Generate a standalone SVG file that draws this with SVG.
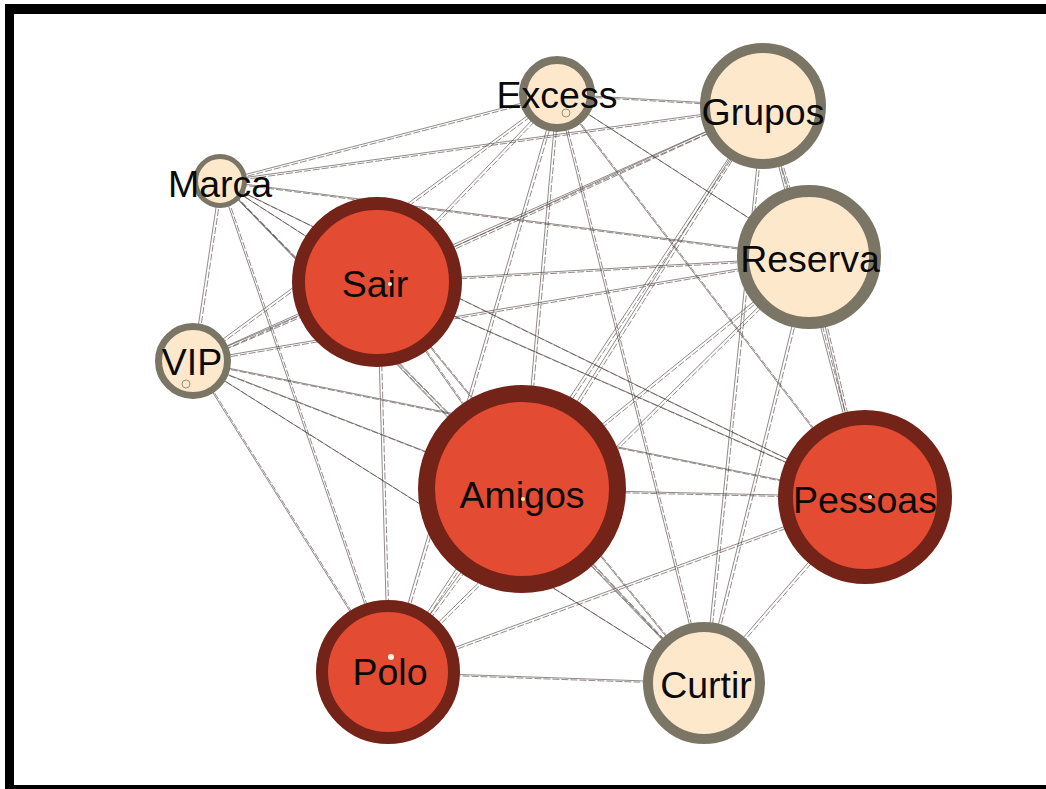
<svg xmlns="http://www.w3.org/2000/svg" xmlns:xlink="http://www.w3.org/1999/xlink" width="1046" height="789" viewBox="0 0 1046 789">
<style>
.edge{fill:none;stroke:#4a3b3a;stroke-width:0.8;stroke-opacity:0.75}
.dash{stroke-dasharray:7 2}
.hot{fill:#E34B32;stroke:#732318}
.cold{fill:#FEE8CB;stroke:#7B7565}
.lbl{font-family:"Liberation Sans",Arial,sans-serif;font-size:37.5px;fill:#0a0a0a;text-anchor:middle}
.dot{fill:#fff4e0}
.ring{fill:none;stroke:#9a8f80;stroke-width:1}
</style>
<defs>
<path id="E" class="edge" d="M557,94L763,106 M557,94L220,181 M557,94L377,282 M557,94L193,361 M557,94L522,489 M557,94L388,672 M557,94L704,683 M557,94L809,257 M557,94L865,497 M763,106L220,181 M763,106L377,282 M763,106L193,361 M763,106L522,489 M763,106L388,672 M763,106L704,683 M763,106L809,257 M763,106L865,497 M220,181L377,282 M220,181L193,361 M220,181L522,489 M220,181L388,672 M220,181L704,683 M220,181L809,257 M220,181L865,497 M377,282L193,361 M377,282L522,489 M377,282L388,672 M377,282L704,683 M377,282L809,257 M377,282L865,497 M193,361L522,489 M193,361L388,672 M193,361L704,683 M193,361L809,257 M193,361L865,497 M522,489L388,672 M522,489L704,683 M522,489L809,257 M522,489L865,497 M388,672L704,683 M388,672L809,257 M388,672L865,497 M704,683L809,257 M704,683L865,497 M809,257L865,497"/>
</defs>
<rect x="0" y="0" width="1046" height="789" fill="#ffffff"/>
<g id="frame" fill="#000">
<rect x="5" y="4" width="1041" height="10"/>
<rect x="5" y="4" width="9" height="785"/>
<rect x="5" y="785" width="1041" height="4"/>
</g>
<g id="connectors">
<use xlink:href="#E"/>
<use xlink:href="#E" class="dash" transform="translate(2.5,1.5)"/>
</g>
<g id="node-excess"><circle class="cold" cx="557" cy="94" r="34" stroke-width="8"/><text class="lbl" x="557" y="108">Excess</text><circle class="ring" cx="566" cy="113" r="4"/></g>
<g id="node-grupos"><circle class="cold" cx="763" cy="106" r="58" stroke-width="10"/><text class="lbl" x="763" y="125">Grupos</text></g>
<g id="node-marca"><circle class="cold" cx="220" cy="181" r="24.5" stroke-width="5"/><text class="lbl" x="220" y="197">Marca</text></g>
<g id="node-sair"><circle class="hot" cx="377" cy="282" r="78.5" stroke-width="13"/><text class="lbl" x="375" y="297">Sair</text><circle class="dot" cx="390" cy="284" r="2"/></g>
<g id="node-vip"><circle class="cold" cx="193" cy="361" r="34.5" stroke-width="7"/><text class="lbl" x="192" y="375">VIP</text><circle class="ring" cx="186" cy="384" r="4"/></g>
<g id="node-amigos"><circle class="hot" cx="522" cy="489" r="95.5" stroke-width="17"/><text class="lbl" x="522" y="508">Amigos</text><circle cx="523" cy="499" r="2" fill="#e8f0b0"/></g>
<g id="node-polo"><circle class="hot" cx="388" cy="672" r="66" stroke-width="12"/><text class="lbl" x="390" y="685">Polo</text><circle class="dot" cx="391" cy="657" r="3"/></g>
<g id="node-curtir"><circle class="cold" cx="704" cy="683" r="56" stroke-width="10"/><text class="lbl" x="706" y="698">Curtir</text></g>
<g id="node-reserva"><circle class="cold" cx="809" cy="257" r="66" stroke-width="12"/><text class="lbl" x="810" y="272">Reserva</text></g>
<g id="node-pessoas"><circle class="hot" cx="865" cy="497" r="79.5" stroke-width="15"/><text class="lbl" x="865" y="513">Pessoas</text><circle class="dot" cx="870" cy="497" r="2"/></g>
</svg>
